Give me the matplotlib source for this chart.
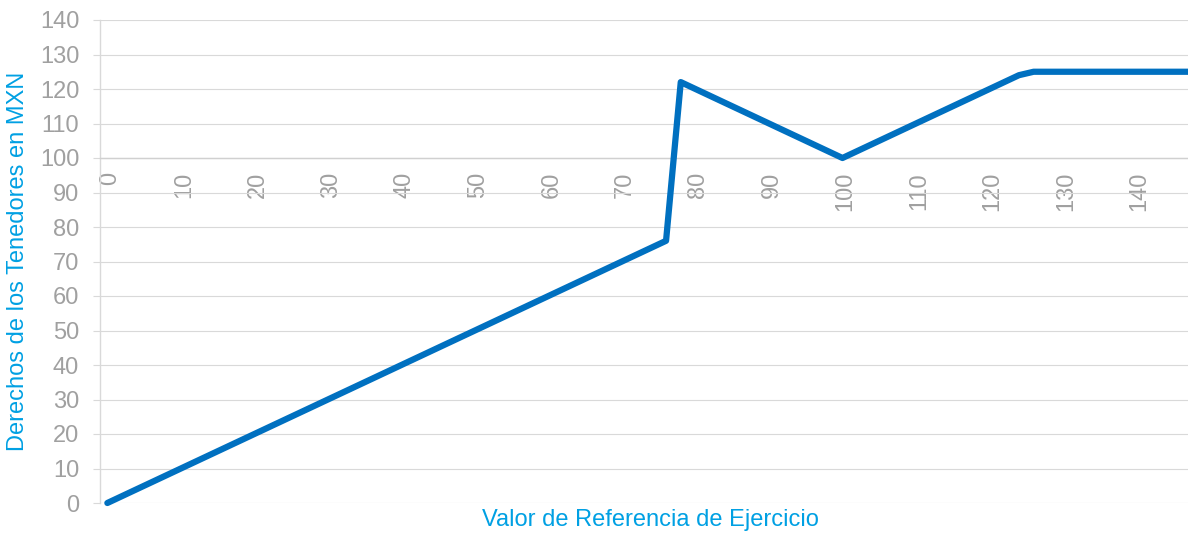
import matplotlib
matplotlib.use("Agg")
import matplotlib.pyplot as plt
from matplotlib.transforms import ScaledTranslation

plt.rcParams['font.family'] = ['Liberation Sans', 'DejaVu Sans']

# Data (breakpoints of the payoff line)
valor_referencia = [0, 76, 78, 100, 124, 126, 147]
derechos = [0, 76, 122, 100, 124, 125, 125]

x_ticks = [0, 10, 20, 30, 40, 50, 60, 70, 80, 90, 100, 110, 120, 130, 140]
y_ticks = [0, 10, 20, 30, 40, 50, 60, 70, 80, 90, 100, 110, 120, 130, 140]

grey = '#A0A0A0'
grid_c = '#D9D9D9'
blue_text = '#00A0E3'
line_c = '#0070C0'

fig = plt.figure(figsize=(11.88, 5.33), dpi=100)
ax = fig.add_axes([100/1188, 30/533, 1 - 100/1188, (503-20)/533])

ax.plot(valor_referencia, derechos, color=line_c, linewidth=4.5,
        solid_joinstyle='round', solid_capstyle='round', zorder=3, clip_on=False)

ax.set_xlim(-1, 147)
ax.set_ylim(0, 140)
ax.set_xticks(x_ticks)
ax.set_yticks(y_ticks)
ax.set_xticklabels([str(v) for v in x_ticks])

ax.grid(axis='y', color=grid_c, linewidth=0.8, zorder=0)
ax.set_axisbelow(True)

for s in ['top', 'right']:
    ax.spines[s].set_visible(False)
ax.spines['left'].set_color(grid_c)
ax.spines['left'].set_linewidth(1.0)
ax.spines['bottom'].set_position(('data', 100))
ax.spines['bottom'].set_color('#D0D0D0')
ax.spines['bottom'].set_linewidth(1.0)

ax.tick_params(axis='y', colors=grey, labelsize=17, length=5, width=0.8,
               color=grid_c, pad=10)
ax.tick_params(axis='x', colors=grey, labelsize=17, length=0, pad=10,
               labelrotation=90)
for lab in ax.get_yticklabels() + ax.get_xticklabels():
    lab.set_color(grey)
shift = ScaledTranslation(3/100, 0, fig.dpi_scale_trans)
for lab in ax.get_xticklabels():
    lab.set_transform(lab.get_transform() + shift)

fig.text(18/1188, (533 - 261.5)/533, 'Derechos de los Tenedores en MXN',
         rotation=90, ha='center', va='center', color=blue_text, fontsize=17)
fig.text(650/1188, (533 - 520)/533, 'Valor de Referencia de Ejercicio',
         ha='center', va='center', color=blue_text, fontsize=17)

fig.savefig('out.png', dpi=100)
